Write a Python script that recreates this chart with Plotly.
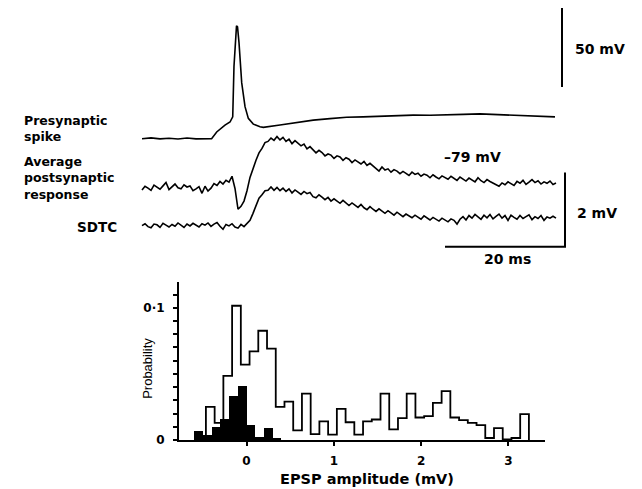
import plotly.graph_objects as go

# page body has an 8 px margin; the captured page is squeezed vertically by ~0.9835
OFF = 8
SY = 0.9835
W, H = 642 - 2 * OFF, 481

# ---------------- data: top panel (traces) ----------------
# presynaptic spike: time (ms) and membrane potential relative to rest (mV)
pre_t = [0, 1.5, 3, 4.5, 6, 7.5, 9, 10.5, 11.6, 12.45, 13.83, 14.67, 15.12, 15.33, 15.58,
         15.75, 15.92, 16.17, 16.62, 17.17, 17.72, 18.55, 19.67, 20.22, 23, 25.78, 28.55,
         31.33, 34.1, 36.83, 39.6, 42.45, 45.2, 48, 50.8, 53.55, 56.33, 59.12, 61.9, 64.67, 68.83]
pre_mv = [-0.2, 0.3, -0.3, 0.1, -0.4, 0.2, -0.3, -0.1, -0.2, 4.0, 8.3, 10.2, 13.4, 44.8, 64.6,
          70.2, 69.6, 59.6, 34.6, 19.8, 12.5, 8.9, 7.25, 6.9, 8.3, 9.75, 11.4,
          12.3, 13.2, 13.4, 13.9, 14.0, 14.5, 14.4, 14.9, 15.0, 15.3, 14.9, 14.6, 14.0, 13.4]

SAMPLE_MS = 0.5
# average postsynaptic response (mV, relative to -79 mV baseline), sampled every 0.5 ms
avg_mv = [-0.04, 0.06, 0.01, -0.05, 0.09, 0.03, -0.02, 0.07, 0.16, -0.03,
          0.05, 0.12, 0.02, -0.01, 0.10, 0.04, 0.07, -0.06, -0.01, 0.05,
          -0.13, 0.06, -0.07, 0.01, 0.13, 0.08, 0.19, 0.12, 0.22, 0.17,
          0.33, 0.00, -0.56, -0.48, -0.34, -0.06, 0.30, 0.55, 0.76, 0.96,
          1.08, 1.24, 1.27, 1.36, 1.30, 1.40, 1.31, 1.38, 1.27, 1.33,
          1.21, 1.29, 1.22, 1.15, 1.20, 1.07, 1.13, 1.05, 0.96, 1.03,
          0.97, 0.88, 0.93, 0.90, 0.81, 0.88, 0.85, 0.76, 0.83, 0.79,
          0.70, 0.77, 0.72, 0.66, 0.73, 0.62, 0.68, 0.61, 0.53, 0.47,
          0.58, 0.50, 0.53, 0.44, 0.51, 0.47, 0.40, 0.46, 0.41, 0.35,
          0.44, 0.38, 0.41, 0.33, 0.39, 0.36, 0.29, 0.37, 0.31, 0.26,
          0.34, 0.30, 0.25, 0.33, 0.28, 0.22, 0.31, 0.26, 0.20, 0.28,
          0.24, 0.18, 0.29, 0.21, 0.16, 0.24, 0.19, 0.14, 0.09, 0.06,
          0.15, 0.10, 0.18, 0.13, 0.08, 0.19, 0.14, 0.22, 0.11, 0.17,
          0.24, 0.16, 0.21, 0.12, 0.18, 0.14, 0.20, 0.11, 0.15]
# SDTC trace (mV, relative to its own baseline), sampled every 0.5 ms
sdtc_mv = [0.00, 0.05, -0.03, -0.06, 0.04, 0.02, -0.05, 0.06, 0.01, -0.04,
           0.03, -0.02, 0.07, 0.02, -0.05, 0.04, -0.01, 0.06, 0.00, -0.04,
           0.05, 0.01, 0.07, -0.02, 0.04, 0.08, -0.02, -0.10, 0.03, -0.01,
           0.05, -0.04, -0.07, 0.03, -0.03, 0.05, 0.14, 0.33, 0.55, 0.74,
           0.83, 0.94, 0.95, 1.04, 0.95, 1.03, 0.94, 1.01, 0.92, 0.99,
           0.88, 0.96, 0.90, 0.84, 0.92, 0.86, 0.89, 0.78, 0.75, 0.83,
           0.77, 0.70, 0.76, 0.66, 0.72, 0.67, 0.60, 0.68, 0.62, 0.54,
           0.61, 0.55, 0.49, 0.57, 0.48, 0.43, 0.51, 0.44, 0.38, 0.45,
           0.40, 0.33, 0.40, 0.34, 0.28, 0.36, 0.30, 0.24, 0.31, 0.25,
           0.21, 0.28, 0.23, 0.17, 0.26, 0.21, 0.15, 0.22, 0.18, 0.12,
           0.20, 0.15, 0.10, 0.18, 0.14, 0.04, 0.17, 0.24, 0.15, 0.27,
           0.20, 0.30, 0.23, 0.17, 0.28, 0.21, 0.30, 0.18, 0.25, 0.31,
           0.20, 0.27, 0.14, 0.28, 0.22, 0.17, 0.27, 0.19, 0.24, 0.29,
           0.16, 0.24, 0.19, 0.27, 0.14, 0.23, 0.20, 0.25, 0.20]

# scale bars
BAR_PRE_MV = 50
BAR_POST_MV = 2
BAR_MS = 20

# ---------------- data: histogram ----------------
noise_start, noise_width = -0.6, 0.1
noise_prob = [0.0073, 0.0038, 0.0098, 0.0164, 0.0333, 0.0409, 0.0119, 0.0025, 0.0093, 0.0018]
epsp_start, epsp_width = -0.465, 0.1
epsp_prob = [0.025, 0.013, 0.0485, 0.1015, 0.057, 0.067, 0.0826, 0.069, 0.025, 0.029,
             0.0073, 0.035, 0.0045, 0.014, 0.004, 0.0235, 0.0134, 0.004, 0.014, 0.0155,
             0.035, 0.008, 0.0165, 0.035, 0.017, 0.018, 0.028, 0.037, 0.017, 0.015,
             0.013, 0.0113, 0.0015, 0.009, 0.0005, 0.0015, 0.0195]
x_tick_vals = [0, 1, 2, 3]
x_tick_text = ["0", "1", "2", "3"]
y_tick_vals = [0, 0.1]
y_tick_text = ["0", "0·1"]

# ---------------- layout helpers (screen pixels -> figure) ----------------
def fy(sy):
    """screen y pixel -> figure y pixel"""
    return sy / SY - OFF

def px_x(sx):
    return (sx - OFF) / W

def px_y(sy):
    return 1 - fy(sy) / H

def bold(size):
    return dict(family="DejaVu Sans", size=size, color="black", weight="bold")

fig = go.Figure()

# top panel traces
t_post = [i * SAMPLE_MS for i in range(len(avg_mv))]
SDTC_OFFSET = -1.0
fig.add_trace(go.Scatter(x=pre_t, y=pre_mv, mode="lines", xaxis="x2", yaxis="y2",
                         line=dict(color="black", width=1.6), hoverinfo="skip"))
fig.add_trace(go.Scatter(x=t_post, y=avg_mv, mode="lines", xaxis="x2", yaxis="y3",
                         line=dict(color="black", width=1.6), hoverinfo="skip"))
fig.add_trace(go.Scatter(x=t_post, y=[v + SDTC_OFFSET for v in sdtc_mv], mode="lines",
                         xaxis="x2", yaxis="y3",
                         line=dict(color="black", width=1.6), hoverinfo="skip"))

# scale bars
bar_x = 70.0
fig.add_trace(go.Scatter(x=[bar_x, bar_x], y=[82 - BAR_PRE_MV, 82], mode="lines",
                         xaxis="x2", yaxis="y2", line=dict(color="black", width=2)))
post_bar_x = 70.5
post_bar_bottom = -1.57
fig.add_trace(go.Scatter(x=[post_bar_x - BAR_MS, post_bar_x, post_bar_x],
                         y=[post_bar_bottom, post_bar_bottom, post_bar_bottom + BAR_POST_MV],
                         mode="lines", xaxis="x2", yaxis="y3",
                         line=dict(color="black", width=2)))

# histogram: filled noise bars
noise_centers = [noise_start + (i + 0.5) * noise_width for i in range(len(noise_prob))]
fig.add_trace(go.Bar(x=noise_centers, y=noise_prob, width=noise_width,
                     marker=dict(color="black", line=dict(width=0)), xaxis="x", yaxis="y"))
# histogram: EPSP outline as a step line
edges = [epsp_start + i * epsp_width for i in range(len(epsp_prob) + 1)]
sx = [edges[0]] + edges[:-1] + [edges[-1]]
sy = [0] + epsp_prob + [0]
fig.add_trace(go.Scatter(x=sx, y=sy, mode="lines", line=dict(color="black", width=1.8, shape="hv"),
                         xaxis="x", yaxis="y", hoverinfo="skip"))

# top panel vertical mapping: screen px = baseline_px - scale * value
def yrange(base_px, px_per_unit):
    top = (fy(base_px) - 0) / (px_per_unit / SY)
    bottom = (fy(base_px) - H) / (px_per_unit / SY)
    return [bottom, top]

x0_px, mv_px = 246.5, 87.3
fig.update_layout(
    width=W, height=H, margin=dict(l=0, r=0, t=0, b=0),
    paper_bgcolor="white", plot_bgcolor="rgba(0,0,0,0)", showlegend=False,
    bargap=0,
    xaxis=dict(domain=[px_x(179), px_x(545)],
               range=[(179 - x0_px) / mv_px, (545 - x0_px) / mv_px],
               showline=True, linecolor="black", linewidth=2, showgrid=False, zeroline=False,
               ticks="outside", ticklen=4, tickwidth=2, tickcolor="black",
               tickvals=x_tick_vals, ticktext=x_tick_text, ticklabelstandoff=5,
               tickfont=bold(12)),
    yaxis=dict(domain=[px_y(439), px_y(281)], range=[0, 158 / 1320],
               showline=True, linecolor="black", linewidth=2, showgrid=False, zeroline=False,
               ticks="outside", ticklen=4, tickwidth=1.5, tickcolor="black",
               tickvals=y_tick_vals, ticktext=y_tick_text, ticklabelstandoff=6,
               tickfont=bold(12),
               minor=dict(tickmode="linear", tick0=0, dtick=0.01, ticks="outside",
                          ticklen=4, tickwidth=1.5, tickcolor="black", showgrid=False)),
    xaxis2=dict(domain=[0, 1], range=[(OFF - 142) / 6, (OFF + W - 142) / 6],
                visible=False, anchor="y2"),
    yaxis2=dict(domain=[0, 1], range=yrange(138, 1.6), visible=False, anchor="x2"),
    yaxis3=dict(domain=[0, 1], range=yrange(188, 37), visible=False,
                anchor="x2", overlaying="y2"),
)

labels = [
    ("Presynaptic<br>spike", 22, 128, "left", 12.5),
    ("Average<br>postsynaptic<br>response", 22, 178, "left", 12.5),
    ("SDTC", 75, 226, "left", 13.5),
    ("50 mV", 573, 49, "left", 14),
    ("2 mV", 575, 212, "left", 14),
    ("–79 mV", 442, 157, "left", 14),
    ("20 ms", 507, 258, "center", 14),
    ("EPSP amplitude (mV)", 367, 478, "center", 14.5),
]
anns = []
for text, x, y, anc, size in labels:
    anns.append(dict(text=text, x=px_x(x), y=px_y(y), xref="paper", yref="paper",
                     xanchor=anc, yanchor="middle", align="left", showarrow=False,
                     font=bold(size)))
anns.append(dict(text="Probability", x=px_x(148), y=px_y(368), xref="paper", yref="paper",
                 xanchor="center", yanchor="middle", showarrow=False, textangle=-90,
                 font=dict(family="Liberation Sans", size=13, color="black")))
fig.update_layout(annotations=anns)

fig.write_html("out.html")
